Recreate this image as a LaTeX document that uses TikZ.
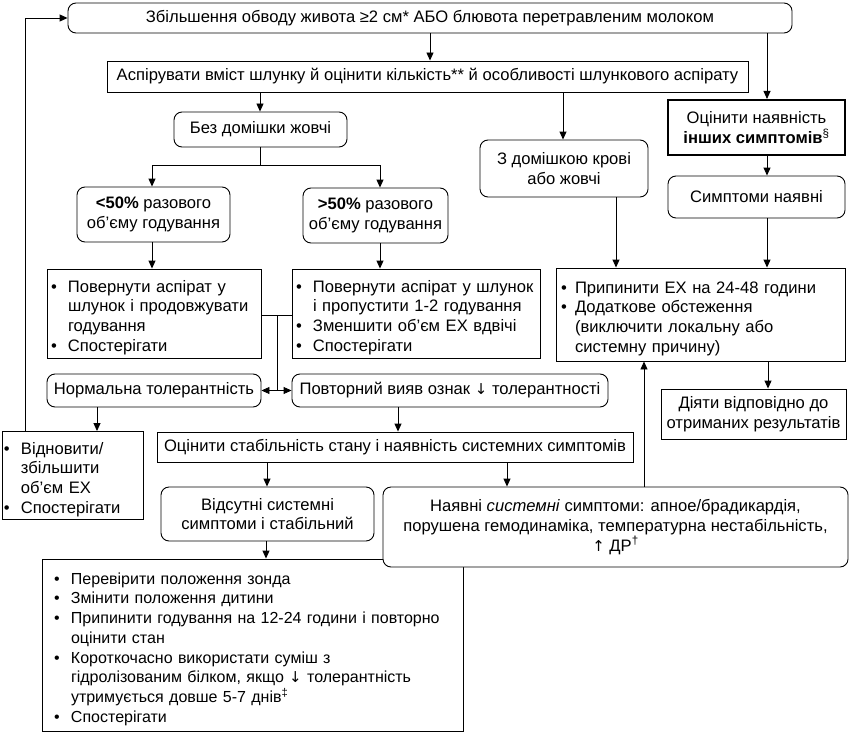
\documentclass[tikz,border=0pt]{standalone}
\usepackage{fontspec}
\setmainfont{Liberation Sans}
\newfontfamily\arrfont{DejaVu Sans}
\usetikzlibrary{arrows.meta}
\newcommand\myfs{\fontsize{16.6}{19.7}\selectfont}
\newcommand\smfs{\fontsize{16}{19.7}\selectfont}
\newcommand\dnarr{{\arrfont\fontsize{15}{15}\selectfont ↓}}
\newcommand\uparr{{\arrfont\fontsize{15}{15}\selectfont ↑}}
\newcommand\bitem[2][17pt]{\par\hangindent=#1\hangafter=1\noindent\makebox[#1][l]{\textbullet}#2}
\begin{document}
\begin{tikzpicture}[x=1pt,y=-1pt,
  base/.style={draw=black, line width=0.9pt, fill=white, font=\myfs, inner xsep=4pt, inner ysep=2pt, align=center},
  rbox/.style={base, rounded corners=8pt},
  sbox/.style={base},
  bbox/.style={base, align=left},
  conn/.style={draw=black, line width=0.9pt},
  arr/.style={conn, -{Triangle[length=8pt,width=7pt]}}]
\useasboundingbox (0,0) rectangle (850,733);

\node[rbox, minimum width=724pt, minimum height=30pt] (top) at (430,18) {Збільшення обводу живота ≥2 см* АБО блювота перетравленим молоком};
\node[sbox, minimum width=641pt, minimum height=31pt] (asp) at (427.5,76.5) {Аспірувати вміст шлунку й оцінити кількість** й особливості шлункового аспірату};
\node[rbox, minimum width=173pt, minimum height=35pt] (bez) at (260.5,129.5) {Без домішки жовчі};
\node[rbox, minimum width=153pt, minimum height=55pt] (lt50) at (153.5,214.5) {\textbf{<50\%} разового\\об’єму годування};
\node[rbox, minimum width=145pt, minimum height=55pt] (gt50) at (375.5,215.5) {\textbf{>50\%} разового\\об’єму годування};

\node[bbox, text width=206pt, minimum height=89pt] (lbul) at (154,313.5) {\bitem{Повернути аспірат у\newline шлунок і продовжувати\newline годування}\bitem{Спостерігати}\par};
\node[bbox, text width=240pt, minimum height=89pt] (rbul) at (416,313.5) {\bitem{Повернути аспірат у шлунок\newline і пропустити 1-2 годування}\bitem{Зменшити об’єм ЕХ вдвічі}\bitem{Спостерігати}\par};

\node[rbox, minimum width=214pt, minimum height=33pt] (norm) at (154,390.5) {Нормальна толерантність};
\node[rbox, minimum width=316pt, minimum height=33pt] (povt) at (450,390.5) {Повторний вияв ознак \dnarr\ толерантності};

\node[bbox, inner xsep=2pt, text width=137pt, minimum height=88pt] (vidn) at (72.5,475.5) {\bitem{Відновити/\newline збільшити\newline об’єм ЕХ}\bitem{Спостерігати}\par};
\node[sbox, minimum width=476pt, minimum height=30pt] (stab) at (395,447) {Оцінити стабільність стану і наявність системних симптомів};
\node[rbox, minimum width=213pt, minimum height=54pt] (vids) at (267.5,514) {Відсутні системні\\симптоми і стабільний};

\node[bbox, font=\smfs, inner xsep=12pt, text width=397pt, minimum height=172pt] (botbul) at (252.5,645) {\bitem{Перевірити положення зонда}\bitem{Змінити положення дитини}\bitem{Припинити годування на 12-24 години і повторно\newline оцінити стан}\bitem{Короткочасно використати суміш з\newline гідролізованим білком, якщо \dnarr\ толерантність\newline утримується довше 5-7 днів\textsuperscript{‡}}\bitem{Спостерігати}\par};
\node[rbox, minimum width=465pt, minimum height=80pt] (nayav) at (615.5,527) {Наявні \textit{системні} симптоми: апное/брадикардія,\\порушена гемодинаміка, температурна нестабільність,\\\uparr\ ДР\textsuperscript{†}};

\node[rbox, minimum width=168pt, minimum height=57pt] (zdom) at (564,168.5) {З домішкою крові\\або жовчі};
\node[sbox, line width=2pt, minimum width=177pt, minimum height=55pt] (ocin) at (756.5,127.5) {Оцінити наявність\\\textbf{інших симптомів}\textsuperscript{§}};
\node[rbox, minimum width=177pt, minimum height=42pt] (sympt) at (756.5,197) {Симптоми наявні};
\node[bbox, inner xsep=5pt, text width=279pt, minimum height=93pt] (rbul2) at (700.5,314.5) {\bitem[14pt]{Припинити ЕХ на 24-48 години}\bitem[14pt]{Додаткове обстеження\newline (виключити локальну або\newline системну причину)}\par};
\node[sbox, minimum width=185pt, minimum height=50pt] (diyaty) at (753.5,414) {Діяти відповідно до\\отриманих результатів};

% connectors
\draw[arr] (430,0 |- top.south) -- (430,0 |- asp.north);
\draw[arr] (767,0 |- top.south) -- (767,0 |- ocin.north);
\draw[arr] (260,0 |- asp.south) -- (260,0 |- bez.north);
\draw[arr] (563,0 |- asp.south) -- (563,0 |- zdom.north);
\coordinate (split) at (260,165);
\draw[conn] (260,0 |- bez.south) -- (split);
\draw[arr] (split) -| (152,0 |- lt50.north);
\draw[arr] (split) -| (380,0 |- gt50.north);
\draw[arr] (152,0 |- lt50.south) -- (152,0 |- lbul.north);
\draw[arr] (380,0 |- gt50.south) -- (380,0 |- rbul.north);
\coordinate (mid) at (277,315);
\draw[conn] (lbul.east |- mid) -- (rbul.west |- mid);
\draw[conn] (mid) -- (277,0 |- norm.east);
\draw[arr] (277,0 |- norm.east) -- (norm.east);
\draw[arr] (277,0 |- povt.west) -- (povt.west);
\draw[arr] (97,0 |- norm.south) -- (97,0 |- vidn.north);
\draw[arr] (398,0 |- povt.south) -- (398,0 |- stab.north);
\draw[arr] (267,0 |- stab.south) -- (267,0 |- vids.north);
\draw[arr] (507,0 |- stab.south) -- (507,0 |- nayav.north);
\draw[arr] (266,0 |- vids.south) -- (266,0 |- botbul.north);
\draw[arr] (644,0 |- nayav.north) -- (644,0 |- rbul2.south);
\draw[arr] (616,0 |- zdom.south) -- (616,0 |- rbul2.north);
\draw[arr] (767,0 |- ocin.south) -- (767,0 |- sympt.north);
\draw[arr] (767,0 |- sympt.south) -- (767,0 |- rbul2.north);
\draw[arr] (768,0 |- rbul2.south) -- (768,0 |- diyaty.north);
\draw[arr] (25,0 |- vidn.north) |- (top.west);
\end{tikzpicture}
\end{document}
